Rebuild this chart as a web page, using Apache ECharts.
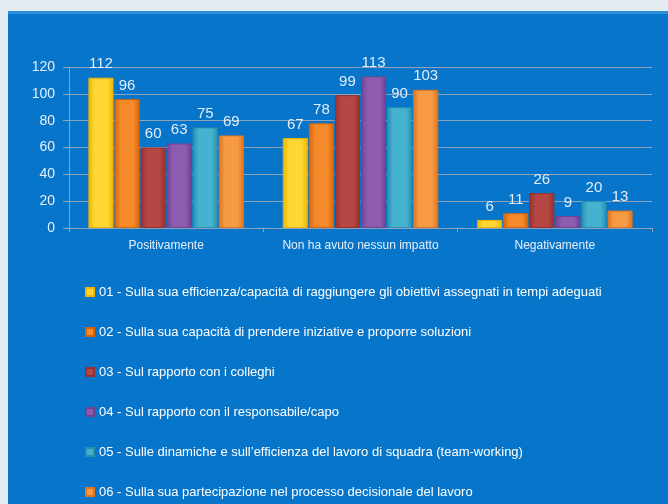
<!DOCTYPE html>
<html>
<head>
<meta charset="utf-8">
<script src="https://cdn.jsdelivr.net/npm/echarts@6/dist/echarts.min.js"></script>
<style>
  html, body { margin: 0; padding: 0; background: #e3ebf3; }
  #chart { width: 668px; height: 504px; }
</style>
</head>
<body>
<div id="chart"></div>
<script>
const chart = echarts.init(document.getElementById('chart'))

// categorie e valori
const categories = ['Positivamente', 'Non ha avuto nessun impatto', 'Negativamente']
const seriesNames = [
  '01 - Sulla sua efficienza/capacità di raggiungere gli obiettivi assegnati in tempi adeguati',
  '02 - Sulla sua capacità di prendere iniziative e proporre soluzioni',
  '03 - Sul rapporto con i colleghi',
  '04 - Sul rapporto con il responsabile/capo',
  '05 - Sulle dinamiche e sull’efficienza del lavoro di squadra (team-working)',
  '06 - Sulla sua partecipazione nel processo decisionale del lavoro',
]
const s01 = [112, 67, 6]
const s02 = [96, 78, 11]
const s03 = [60, 99, 26]
const s04 = [63, 113, 9]
const s05 = [75, 90, 20]
const s06 = [69, 103, 13]
const values = [s01, s02, s03, s04, s05, s06]

// colori (chiaro, scuro) per effetto rilievo
const colors = [
  ['#ffd633', '#f0b400'],
  ['#f58a2a', '#d8640a'],
  ['#b54644', '#96302f'],
  ['#8d5cb0', '#6e4290'],
  ['#45b3d0', '#2a8fae'],
  ['#f79a45', '#e0741c'],
]

const font = '"Liberation Sans", "DejaVu Sans", sans-serif'
const lineGrey = '#8ea3b8'

const option = {
  textStyle: { fontFamily: font },
  graphic: [
    {
      type: 'rect',
      left: 8,
      top: 11,
      shape: { width: 660, height: 493 },
      style: { fill: '#0776ca' },
      silent: true,
      z: -10,
    },
    {
      type: 'rect',
      left: 8,
      top: 11,
      shape: { width: 660, height: 3 },
      style: { fill: '#2f8fd8' },
      silent: true,
      z: -9,
    },
  ],
  grid: { left: 69, right: 16, top: 67, bottom: 276 },
  legend: {
    orient: 'vertical',
    left: 85,
    top: 285,
    height: 220,
    padding: 0,
    itemWidth: 8,
    itemHeight: 8,
    itemGap: 26,
    icon: 'rect',
    textStyle: { color: '#ffffff', fontSize: 13, fontFamily: font, lineHeight: 14 },
    data: seriesNames,
  },
  xAxis: {
    type: 'category',
    data: categories,
    axisLine: { lineStyle: { color: lineGrey, width: 1 } },
    axisTick: { show: true, length: 4, lineStyle: { color: lineGrey } },
    axisLabel: { color: '#e6eef8', fontSize: 12, margin: 12, interval: 0 },
  },
  yAxis: {
    type: 'value',
    min: 0,
    max: 120,
    interval: 20,
    axisLine: { show: true, lineStyle: { color: lineGrey } },
    axisTick: { show: true, length: 6, lineStyle: { color: lineGrey } },
    axisLabel: { color: '#e6eef8', fontSize: 14, margin: 14 },
    splitLine: { lineStyle: { color: lineGrey, width: 1 } },
  },
  series: values.map((data, i) => ({
    name: seriesNames[i],
    type: 'bar',
    data: data,
    barGap: '4%',
    barCategoryGap: '20%',
    color: colors[i][0],
    itemStyle: {
      color: new echarts.graphic.LinearGradient(0, 0, 1, 0, [
        { offset: 0, color: colors[i][1] },
        { offset: 0.25, color: colors[i][0] },
        { offset: 0.75, color: colors[i][0] },
        { offset: 1, color: colors[i][1] },
      ]),
      borderColor: colors[i][1],
      borderWidth: 1,
    },
    label: {
      show: true,
      position: 'top',
      distance: 6,
      color: '#e3ecf7',
      fontSize: 15,
    },
  })),
}

chart.setOption(option)
</script>
</body>
</html>
